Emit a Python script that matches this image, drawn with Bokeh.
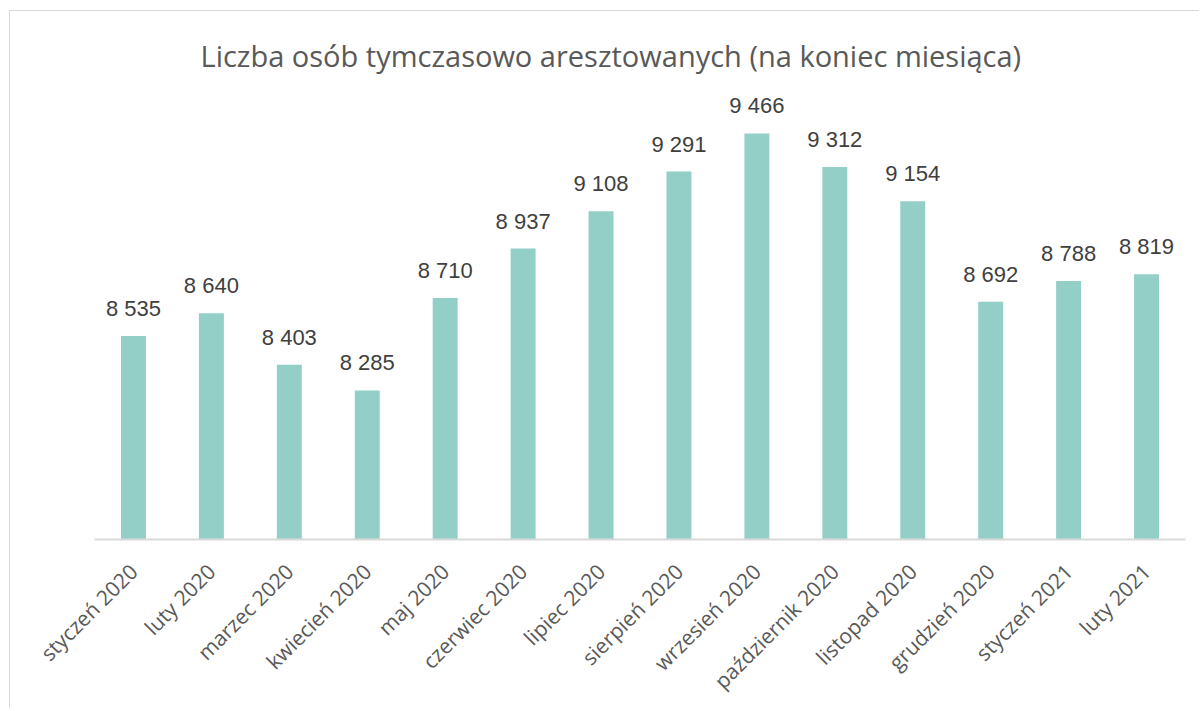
import math
from bokeh.plotting import figure
from bokeh.models import ColumnDataSource, Title
from bokeh.core.properties import value
from bokeh.embed import file_html
from bokeh.resources import INLINE

months = ["styczeń 2020", "luty 2020", "marzec 2020", "kwiecień 2020", "maj 2020",
          "czerwiec 2020", "lipiec 2020", "sierpień 2020", "wrzesień 2020",
          "październik 2020", "listopad 2020", "grudzień 2020", "styczeń 2021", "luty 2021"]
counts = [8535, 8640, 8403, 8285, 8710, 8937, 9108, 9291, 9466, 9312, 9154, 8692, 8788, 8819]
labels = [f"{v:,}".replace(",", " ") for v in counts]

title_text = "Liczba osób tymczasowo aresztowanych (na koniec miesiąca)"

src = ColumnDataSource(data=dict(month=months, count=counts, label=labels))

p = figure(x_range=months, y_range=(7600, 9700), width=1190, height=698,
           output_backend="svg", toolbar_location=None,
           min_border_left=84, min_border_right=15, min_border_top=71, min_border_bottom=170)

p.styles = {"margin-left": "9px", "margin-top": "10px",
            "border-left": "1.5px solid #D9D9D9", "border-top": "1.5px solid #D9D9D9"}

p.title = Title(text=title_text, align="left", offset=106, text_font="Open Sans",
                text_font_size="29px", text_font_style="normal", text_color="#595959",
                standoff=16)

p.vbar(x="month", top="count", bottom=7600, width=0.32, source=src,
       fill_color="#93CFC6", line_color=None)

p.text(x="month", y="count", text="label", source=src, text_align="center",
       text_baseline="bottom", y_offset=-15, text_font=value("Liberation Sans"),
       text_font_size="22px", text_color="#404040")

p.yaxis.visible = False
p.xgrid.grid_line_color = None
p.ygrid.grid_line_color = None
p.outline_line_color = None

ax = p.xaxis[0]
ax.axis_line_color = "#D9D9D9"
ax.axis_line_width = 2
ax.major_tick_line_color = None
ax.minor_tick_line_color = None
ax.major_label_orientation = math.pi / 4
ax.major_label_text_font = "Open Sans"
ax.major_label_text_font_size = "21px"
ax.major_label_text_color = "#595959"
ax.major_label_standoff = 22

open("out.html", "w").write(file_html(p, INLINE))
